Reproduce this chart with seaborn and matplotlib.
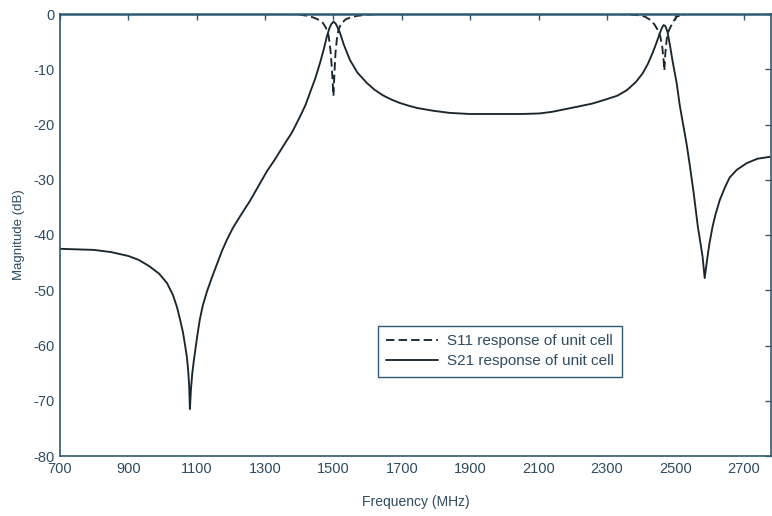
import matplotlib
matplotlib.use("Agg")
import matplotlib.pyplot as plt
import seaborn as sns
import pandas as pd

# Unit-cell response, magnitude in dB against frequency in MHz
s21_freq = [700, 750, 800, 850, 900, 930, 960, 990, 1013, 1030, 1042, 1052,
            1060, 1066, 1071, 1075, 1078, 1080, 1083, 1087, 1092, 1101, 1109,
            1118, 1130, 1145, 1159, 1173, 1188, 1206, 1230, 1256, 1280, 1305,
            1330, 1352, 1378, 1402, 1418, 1431, 1446, 1460, 1472, 1481, 1488,
            1494, 1500, 1506, 1512, 1519, 1530, 1548, 1570, 1598, 1620, 1644,
            1670, 1694, 1720, 1744, 1790, 1840, 1900, 1987, 2050, 2103, 2140,
            2180, 2220, 2258, 2300, 2330, 2358, 2385, 2405, 2420, 2434, 2445,
            2454, 2461, 2466, 2471, 2477, 2484, 2492, 2504, 2513, 2523, 2533,
            2542, 2554, 2566, 2575, 2580, 2586, 2593, 2600, 2609, 2618, 2630,
            2645, 2659, 2680, 2709, 2740, 2782]
s21_db = [-42.5, -42.6, -42.7, -43.1, -43.8, -44.5, -45.6, -47.0, -48.7, -50.8,
          -53.0, -55.5, -57.7, -60.0, -62.0, -64.5, -67.5, -71.5, -68.0, -65.0,
          -62.5, -58.5, -55.3, -52.7, -50.2, -47.6, -45.3, -43.0, -40.9, -38.7,
          -36.3, -33.8, -31.2, -28.5, -26.2, -24.0, -21.5, -18.6, -16.5, -14.3,
          -11.8, -9.0, -6.3, -4.0, -2.6, -1.8, -1.4, -1.7, -2.4, -3.4, -5.5,
          -8.3, -10.6, -12.5, -13.7, -14.7, -15.5, -16.1, -16.6, -17.0, -17.5,
          -17.9, -18.1, -18.1, -18.1, -18.0, -17.7, -17.2, -16.7, -16.2, -15.4,
          -14.8, -13.8, -12.3, -10.7, -9.0, -7.0, -5.2, -3.6, -2.5, -2.0, -2.2,
          -3.2, -5.5, -8.5, -12.5, -16.5, -20.0, -23.5, -27.2, -32.5, -38.5,
          -42.0, -44.0, -47.8, -44.5, -41.5, -38.5, -36.2, -33.7, -31.4, -29.6,
          -28.2, -27.0, -26.2, -25.8]

s11_freq = [700, 1380, 1400, 1420, 1440, 1455, 1469, 1478, 1486, 1492, 1496,
            1500, 1503, 1506, 1510, 1515, 1522, 1535, 1550, 1568, 1600, 1636,
            2330, 2370, 2396, 2412, 2425, 2438, 2449, 2456, 2462, 2466, 2468,
            2471, 2475, 2481, 2489, 2496, 2504, 2518, 2533, 2782]
s11_db = [0.0, 0.0, -0.1, -0.3, -0.6, -1.0, -1.6, -2.5, -4.0, -7.0, -10.5,
          -14.8, -10.5, -7.0, -4.5, -2.8, -1.8, -1.0, -0.6, -0.35, -0.1, 0.0,
          0.0, -0.1, -0.25, -0.5, -1.0, -1.8, -2.9, -4.0, -6.0, -8.5, -10.2,
          -7.0, -4.5, -3.0, -2.0, -1.2, -0.5, -0.15, 0.0, 0.0]

x_ticks = [700, 900, 1100, 1300, 1500, 1700, 1900, 2100, 2300, 2500, 2700]
y_ticks = [0, -10, -20, -30, -40, -50, -60, -70, -80]

s11 = pd.DataFrame({"freq": s11_freq, "db": s11_db})
s21 = pd.DataFrame({"freq": s21_freq, "db": s21_db})

sns.set_theme(style="white")
plt.rcParams["font.family"] = ["Liberation Sans", "DejaVu Sans"]

axis_col = "#2f5a70"
text_col = "#2e4c60"
line_col = "#1a262e"

fig = plt.figure(figsize=(7.72, 5.16), dpi=100)
ax = fig.add_axes([60 / 772, 60 / 516, 711 / 772, 442 / 516])

sns.lineplot(data=s11, x="freq", y="db", ax=ax, color=line_col, lw=1.35,
             linestyle=(0, (4.5, 2.2)), sort=False, estimator=None,
             label="S11 response of unit cell")
sns.lineplot(data=s21, x="freq", y="db", ax=ax, color=line_col, lw=1.35,
             sort=False, estimator=None, label="S21 response of unit cell")

ax.set_xlim(700, 2780)
ax.set_ylim(-80, 0)
ax.set_xticks(x_ticks)
ax.set_xticklabels([str(t) for t in x_ticks])
ax.set_yticks(y_ticks)
ax.set_yticklabels([str(t) for t in y_ticks])

for name, sp in ax.spines.items():
    sp.set_visible(True)
    sp.set_color(axis_col)
    sp.set_linewidth(1.8 if name == "top" else 1.2)
    sp.set_zorder(3)

ax.tick_params(axis="both", which="both", direction="in", length=4.5,
               width=1.0, color=axis_col, labelcolor=text_col, labelsize=10.5,
               top=True, right=True, pad=4)

ax.set_xlabel("Frequency (MHz)", fontsize=10, color=text_col, labelpad=14)
ax.set_ylabel("Magnitude (dB)", fontsize=9.5, color=text_col, labelpad=6)

leg = ax.legend(loc="lower left", bbox_to_anchor=(0.447, 0.179),
                borderaxespad=0, fontsize=11, handlelength=3.4,
                handletextpad=0.55, frameon=True, fancybox=False, framealpha=1,
                edgecolor=axis_col, borderpad=0.55, labelspacing=0.4)
leg.get_frame().set_linewidth(1.0)
for t in leg.get_texts():
    t.set_color(text_col)

fig.savefig("out.png", dpi=100)
